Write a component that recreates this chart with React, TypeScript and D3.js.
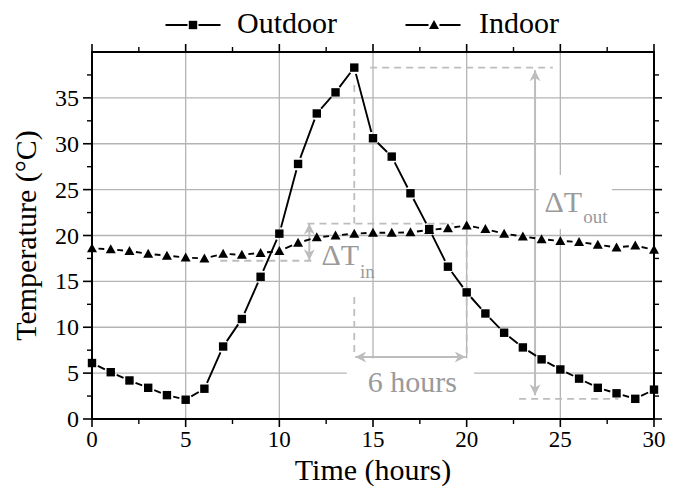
import * as d3 from "d3";

const hours = [0, 1, 2, 3, 4, 5, 6, 7, 8, 9, 10, 11, 12, 13, 14, 15, 16, 17, 18, 19, 20, 21, 22, 23, 24, 25, 26, 27, 28, 29, 30];
const outdoor = [6.1, 5.1, 4.2, 3.4, 2.6, 2.1, 3.3, 7.9, 10.9, 15.5, 20.2, 27.8, 33.3, 35.6, 38.3, 30.6, 28.6, 24.6, 20.7, 16.6, 13.8, 11.5, 9.4, 7.8, 6.5, 5.4, 4.4, 3.4, 2.8, 2.2, 3.2];
const indoor = [18.6, 18.5, 18.3, 18.0, 17.8, 17.6, 17.5, 18.0, 17.9, 18.1, 18.3, 19.2, 19.8, 20.0, 20.2, 20.3, 20.3, 20.35, 20.6, 20.8, 21.1, 20.7, 20.2, 19.9, 19.6, 19.4, 19.3, 19.0, 18.7, 18.9, 18.45];
const xTicks = [0, 5, 10, 15, 20, 25, 30];
const yTicks = [0, 5, 10, 15, 20, 25, 30, 35];
const xMinor = [2.5, 7.5, 12.5, 17.5, 22.5, 27.5];
const yMinor = [2.5, 7.5, 12.5, 17.5, 22.5, 27.5, 32.5, 37.5];

const FONT = "'Liberation Serif', 'Times New Roman', serif";
const GRID = "#b4b4b4";
const ANNO = "#bdbdbd";
const ANNO_TEXT = "#9a9a9a";

const x = d3.scaleLinear().domain([0, 30]).range([92, 654]);
const y = d3.scaleLinear().domain([0, 40]).range([419, 52]);

type Pt = [number, number];

// line between symbols, with a small gap round each symbol (Origin style)
function GapLine({ pts, gap }: { pts: Pt[]; gap: number }) {
  const segs: string[] = [];
  for (let i = 0; i < pts.length - 1; i++) {
    const [x0, y0] = pts[i];
    const [x1, y1] = pts[i + 1];
    const len = Math.hypot(x1 - x0, y1 - y0);
    if (len <= gap * 2) continue;
    const ux = (x1 - x0) / len;
    const uy = (y1 - y0) / len;
    segs.push(`M${x0 + ux * gap},${y0 + uy * gap}L${x1 - ux * gap},${y1 - uy * gap}`);
  }
  return <path d={segs.join("")} fill="none" stroke="#000" strokeWidth={1.9} />;
}

function Square({ cx, cy }: { cx: number; cy: number }) {
  return <rect x={cx - 4.2} y={cy - 4.2} width={8.4} height={8.4} fill="#000" />;
}

function Triangle({ cx, cy }: { cx: number; cy: number }) {
  return <path d={`M${cx},${cy - 5}L${cx + 5},${cy + 4}L${cx - 5},${cy + 4}Z`} fill="#000" />;
}

function Head({ tip, dir }: { tip: Pt; dir: Pt }) {
  const [tx, ty] = tip;
  const [dx, dy] = dir;
  const L = 11, W = 5.5;
  const bx = tx - dx * L, by = ty - dy * L;
  const mx = tx - dx * L * 0.7, my = ty - dy * L * 0.7;
  return (
    <path
      d={`M${tx},${ty}L${bx - dy * W},${by + dx * W}L${mx},${my}L${bx + dy * W},${by - dx * W}Z`}
      fill={ANNO}
    />
  );
}

function DoubleArrow({ a, b }: { a: Pt; b: Pt }) {
  const len = Math.hypot(b[0] - a[0], b[1] - a[1]);
  const u: Pt = [(b[0] - a[0]) / len, (b[1] - a[1]) / len];
  return (
    <g>
      <line x1={a[0]} y1={a[1]} x2={b[0]} y2={b[1]} stroke={ANNO} strokeWidth={2} />
      <Head tip={b} dir={u} />
      <Head tip={a} dir={[-u[0], -u[1]]} />
    </g>
  );
}

function Dash({ x1, y1, x2, y2 }: { x1: number; y1: number; x2: number; y2: number }) {
  return <line x1={x(x1)} y1={y(y1)} x2={x(x2)} y2={y(y2)} stroke={ANNO} strokeWidth={1.8} strokeDasharray="7,5" />;
}

export default function App() {
  const outPts: Pt[] = hours.map((h, i) => [x(h), y(outdoor[i])]);
  const inPts: Pt[] = hours.map((h, i) => [x(h), y(indoor[i])]);
  const [x0, x1] = x.range();
  const [y0, y1] = y.range();

  return (
    <svg width={681} height={491} style={{ position: "absolute", left: 0, top: 0, background: "#fff" }} fontFamily={FONT}>
      {/* grid */}
      {xTicks.slice(1, -1).map((t) => (
        <line key={`gx${t}`} x1={x(t)} x2={x(t)} y1={y0} y2={y1} stroke={GRID} strokeWidth={1.3} />
      ))}
      {yTicks.slice(1).map((t) => (
        <line key={`gy${t}`} x1={x0} x2={x1} y1={y(t)} y2={y(t)} stroke={GRID} strokeWidth={1.3} />
      ))}

      {/* white boxes behind annotation labels */}
      <rect x={x(13.6)} y={y(6.6)} width={x(20.4) - x(13.6)} height={y(0.1) - y(6.6)} fill="#fff" />
      <rect x={x(23.85)} y={y(26.6)} width={x(27.75) - x(23.85)} height={y(20.7) - y(26.6)} fill="#fff" />

      {/* annotations */}
      <Dash x1={14.85} y1={38.3} x2={24.6} y2={38.3} />
      <Dash x1={22.8} y1={2.2} x2={28.1} y2={2.2} />
      <Dash x1={14} y1={36.4} x2={14} y2={21.3} />
      <Dash x1={14} y1={13.3} x2={14} y2={6.8} />
      <Dash x1={20} y1={21.0} x2={20} y2={6.8} />
      <Dash x1={11.5} y1={21.3} x2={19.3} y2={21.3} />
      <Dash x1={6.85} y1={17.25} x2={11.9} y2={17.25} />
      <DoubleArrow a={[x(23.65), y(38.0)]} b={[x(23.65), y(2.6)]} />
      <DoubleArrow a={[x(11.6), y(21.3)]} b={[x(11.6), y(17.3)]} />
      <DoubleArrow a={[x(14.05), y(6.76)]} b={[x(19.95), y(6.76)]} />

      <text x={x(24.15)} y={y(22.6)} fontSize={30} fill={ANNO_TEXT}>ΔT</text>
      <text x={x(26.22)} y={y(21.35)} fontSize={19} fill={ANNO_TEXT}>out</text>
      <text x={x(12.25)} y={y(16.8)} fontSize={30} fill={ANNO_TEXT}>ΔT</text>
      <text x={x(14.3)} y={y(15.4)} fontSize={19} fill={ANNO_TEXT}>in</text>
      <text x={x(17.1)} y={y(2.95)} fontSize={30} fill={ANNO_TEXT} textAnchor="middle">6 hours</text>

      {/* data */}
      <GapLine pts={inPts} gap={6.5} />
      {inPts.map(([cx, cy], i) => <Triangle key={`i${i}`} cx={cx} cy={cy} />)}
      <GapLine pts={outPts} gap={6.5} />
      {outPts.map(([cx, cy], i) => <Square key={`o${i}`} cx={cx} cy={cy} />)}

      {/* frame and ticks */}
      <rect x={x0} y={y1} width={x1 - x0} height={y0 - y1} fill="none" stroke="#000" strokeWidth={2} />
      {xTicks.map((t) => (
        <g key={`tx${t}`}>
          <line x1={x(t)} x2={x(t)} y1={y0} y2={y0 + 8} stroke="#000" strokeWidth={1.6} />
          <line x1={x(t)} x2={x(t)} y1={y1} y2={y1 - 8} stroke="#000" strokeWidth={1.6} />
          <text x={x(t)} y={y0 + 28} fontSize={23} textAnchor="middle">{t}</text>
        </g>
      ))}
      {xMinor.map((t) => (
        <g key={`mx${t}`}>
          <line x1={x(t)} x2={x(t)} y1={y0} y2={y0 + 5} stroke="#000" strokeWidth={1.4} />
          <line x1={x(t)} x2={x(t)} y1={y1} y2={y1 - 5} stroke="#000" strokeWidth={1.4} />
        </g>
      ))}
      {yTicks.map((t) => (
        <g key={`ty${t}`}>
          <line x1={x0} x2={x0 - 9} y1={y(t)} y2={y(t)} stroke="#000" strokeWidth={1.6} />
          <line x1={x1} x2={x1 + 8} y1={y(t)} y2={y(t)} stroke="#000" strokeWidth={1.6} />
          <text x={x0 - 13} y={y(t) + 8} fontSize={24} textAnchor="end">{t}</text>
        </g>
      ))}
      {yMinor.map((t) => (
        <g key={`my${t}`}>
          <line x1={x0} x2={x0 - 5} y1={y(t)} y2={y(t)} stroke="#000" strokeWidth={1.4} />
          <line x1={x1} x2={x1 + 5} y1={y(t)} y2={y(t)} stroke="#000" strokeWidth={1.4} />
        </g>
      ))}

      {/* axis titles */}
      <text x={(x0 + x1) / 2} y={480} fontSize={30} textAnchor="middle">Time (hours)</text>
      <text transform={`translate(36,${(y0 + y1) / 2}) rotate(-90)`} fontSize={30} textAnchor="middle">Temperature (°C)</text>

      {/* legend */}
      <GapLine pts={[[160, 25], [193, 25], [226, 25]]} gap={5.5} />
      <Square cx={193} cy={25} />
      <text x={237} y={33} fontSize={30}>Outdoor</text>
      <GapLine pts={[[400, 25], [434, 25], [466, 25]]} gap={5.5} />
      <Triangle cx={434} cy={25} />
      <text x={479} y={33} fontSize={30}>Indoor</text>
    </svg>
  );
}
